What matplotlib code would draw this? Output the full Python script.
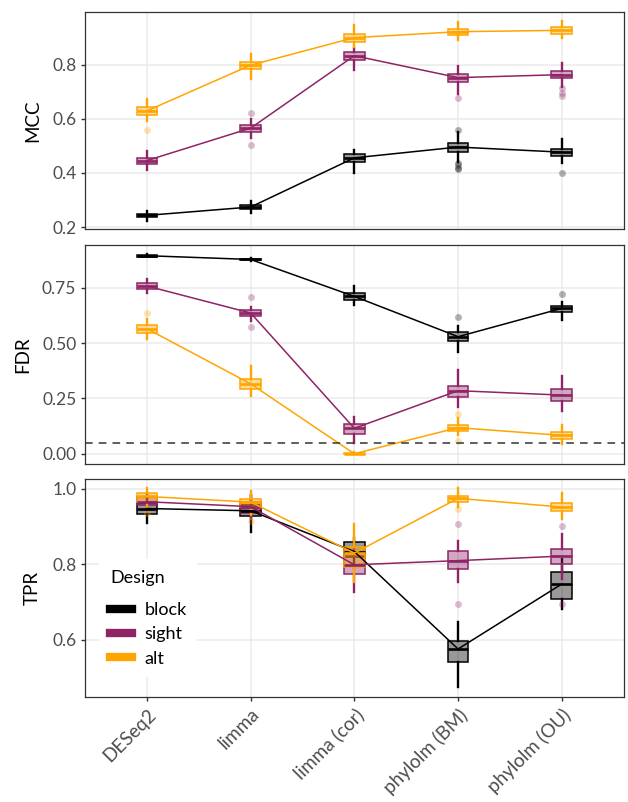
import numpy as np
import matplotlib
matplotlib.use("Agg")
import matplotlib.pyplot as plt
from matplotlib.colors import to_rgba
from matplotlib.lines import Line2D

plt.rcParams["font.family"] = ["Lato", "DejaVu Sans"]

methods = ["DESeq2", "limma", "limma (cor)", "phylolm (BM)", "phylolm (OU)"]
designs = ["block", "sight", "alt"]
design_colors = ["#000000", "#8E2466", "#FFA500"]

# box stats per method: (whisker low, q1, median, q3, whisker high)
mcc_block = [(0.223, 0.238, 0.243, 0.248, 0.260), (0.251, 0.266, 0.274, 0.283, 0.295),
             (0.401, 0.440, 0.456, 0.471, 0.486), (0.442, 0.479, 0.496, 0.512, 0.553),
             (0.438, 0.463, 0.477, 0.490, 0.525)]
mcc_sight = [(0.412, 0.433, 0.446, 0.456, 0.480), (0.531, 0.551, 0.566, 0.579, 0.599),
             (0.780, 0.819, 0.834, 0.849, 0.862), (0.691, 0.736, 0.753, 0.768, 0.795),
             (0.720, 0.751, 0.764, 0.777, 0.806)]
mcc_alt = [(0.594, 0.615, 0.630, 0.643, 0.673), (0.749, 0.784, 0.799, 0.812, 0.841),
           (0.868, 0.886, 0.901, 0.916, 0.948), (0.891, 0.912, 0.923, 0.933, 0.958),
           (0.901, 0.916, 0.928, 0.940, 0.963)]
mcc_block_out = [[], [], [], [0.560, 0.436, 0.428, 0.420, 0.414], [0.400]]
mcc_sight_out = [[], [0.622, 0.504], [], [0.678], [0.714, 0.697, 0.686]]
mcc_alt_out = [[0.560], [], [], [], []]

fdr_block = [(0.888, 0.890, 0.895, 0.899, 0.901), (0.873, 0.875, 0.878, 0.881, 0.883),
             (0.673, 0.696, 0.711, 0.725, 0.756), (0.461, 0.508, 0.529, 0.549, 0.577),
             (0.606, 0.642, 0.657, 0.669, 0.684)]
fdr_sight = [(0.728, 0.746, 0.758, 0.770, 0.789), (0.598, 0.621, 0.636, 0.651, 0.662),
             (0.047, 0.088, 0.115, 0.136, 0.166), (0.212, 0.258, 0.285, 0.307, 0.378),
             (0.194, 0.238, 0.265, 0.294, 0.350)]
fdr_alt = [(0.517, 0.547, 0.565, 0.582, 0.607), (0.262, 0.292, 0.316, 0.338, 0.395),
           (0.000, 0.000, 0.000, 0.004, 0.008), (0.085, 0.101, 0.118, 0.130, 0.161),
           (0.042, 0.066, 0.083, 0.099, 0.130)]
fdr_block_out = [[], [], [], [0.618], [0.722]]
fdr_sight_out = [[], [0.707, 0.574], [], [], []]
fdr_alt_out = [[0.634], [], [], [0.179, 0.059], []]

tpr_block = [(0.909, 0.934, 0.948, 0.962, 0.980), (0.887, 0.928, 0.942, 0.958, 0.980),
             (0.790, 0.819, 0.834, 0.860, 0.870), (0.475, 0.541, 0.576, 0.598, 0.647),
             (0.681, 0.709, 0.748, 0.779, 0.814)]
tpr_sight = [(0.945, 0.958, 0.966, 0.978, 0.990), (0.920, 0.937, 0.953, 0.966, 0.985),
             (0.728, 0.774, 0.799, 0.821, 0.860), (0.754, 0.789, 0.810, 0.836, 0.862),
             (0.761, 0.801, 0.822, 0.840, 0.881)]
tpr_alt = [(0.950, 0.966, 0.980, 0.989, 1.002), (0.930, 0.951, 0.965, 0.974, 0.995),
           (0.754, 0.794, 0.830, 0.847, 0.907), (0.953, 0.966, 0.975, 0.982, 1.002),
           (0.921, 0.941, 0.952, 0.962, 0.989)]
tpr_block_out = [[], [], [], [], []]
tpr_sight_out = [[], [], [], [0.908, 0.695], [0.901, 0.695]]
tpr_alt_out = [[0.937], [0.915], [], [0.948], []]

panels = [
    ("MCC", [mcc_block, mcc_sight, mcc_alt], [mcc_block_out, mcc_sight_out, mcc_alt_out],
     (0.1915, 0.997), [0.2, 0.4, 0.6, 0.8], ["0.2", "0.4", "0.6", "0.8"]),
    ("FDR", [fdr_block, fdr_sight, fdr_alt], [fdr_block_out, fdr_sight_out, fdr_alt_out],
     (-0.045, 0.942), [0.0, 0.25, 0.5, 0.75], ["0.00", "0.25", "0.50", "0.75"]),
    ("TPR", [tpr_block, tpr_sight, tpr_alt], [tpr_block_out, tpr_sight_out, tpr_alt_out],
     (0.448, 1.027), [0.6, 0.8, 1.0], ["0.6", "0.8", "1.0"]),
]
fdr_cutoff = 0.05

W, H = 628, 802
fig = plt.figure(figsize=(W / 100, H / 100), dpi=100)
left, right = 84.7, 624.0
tops = [11.7, 245.3, 478.7]
bottoms = [229.3, 463.7, 697.3]

pos = np.arange(1, len(methods) + 1)
axes = []
for i, (name, series, outs, ylim, yt, ytl) in enumerate(panels):
    ax = fig.add_axes([left / W, 1 - bottoms[i] / H, (right - left) / W,
                       (bottoms[i] - tops[i]) / H])
    axes.append(ax)
    ax.set_axisbelow(True)
    for j, (stats_list, out_list) in enumerate(zip(series, outs)):
        col = design_colors[j]
        stats = [dict(whislo=s[0], q1=s[1], med=s[2], q3=s[3], whishi=s[4], fliers=o)
                 for s, o in zip(stats_list, out_list)]
        ax.bxp(stats, positions=pos, widths=0.2, patch_artist=True, showcaps=False,
               boxprops=dict(facecolor=to_rgba(col, 0.4), edgecolor=col, linewidth=1.1),
               whiskerprops=dict(color=col, linewidth=1.7),
               medianprops=dict(color=col, linewidth=1.9),
               flierprops=dict(marker="o", markersize=5, markeredgecolor="none",
                               markerfacecolor=to_rgba(col, 0.3)),
               manage_ticks=False, zorder=3)
        ax.plot(pos, [s[2] for s in stats_list], color=col, linewidth=1.1, zorder=4)
    if name == "FDR":
        ax.axhline(fdr_cutoff, color="#333333", linewidth=1.1, dashes=(5, 4), zorder=5)
    ax.set_xlim(0.4, 5.6)
    ax.set_ylim(*ylim)
    ax.set_yticks(yt)
    ax.set_yticklabels(ytl)
    ax.set_xticks(pos)
    ax.grid(True, color="#EBEBEB", linewidth=1.1)
    ax.set_ylabel(name, fontsize=13.5, labelpad=8)
    ax.tick_params(axis="both", colors="#333333", labelcolor="#4D4D4D", labelsize=12.5,
                   length=3, width=1.0, pad=3)
    for sp in ax.spines.values():
        sp.set_edgecolor("#333333")
        sp.set_linewidth(0.9)
    if i < 2:
        ax.tick_params(axis="x", length=0, labelbottom=False)
    else:
        ax.set_xticklabels(methods, rotation=45, ha="right", rotation_mode="anchor",
                           fontsize=13.5)

fig.align_ylabels(axes)

handles = [Line2D([], [], color=c, linewidth=6) for c in design_colors]
leg = axes[2].legend(handles, designs, title="Design", loc="lower left",
                     bbox_to_anchor=(0.01, 0.05), frameon=True, fontsize=13,
                     title_fontsize=13, handlelength=1.2, handletextpad=0.7,
                     labelspacing=0.45, borderpad=0.6)
leg._legend_box.align = "left"
leg._legend_box.sep = 12
leg.get_frame().set_facecolor("white")
leg.get_frame().set_edgecolor("none")
leg.get_frame().set_alpha(1.0)
leg.set_zorder(10)

fig.savefig("out.png", dpi=100)
